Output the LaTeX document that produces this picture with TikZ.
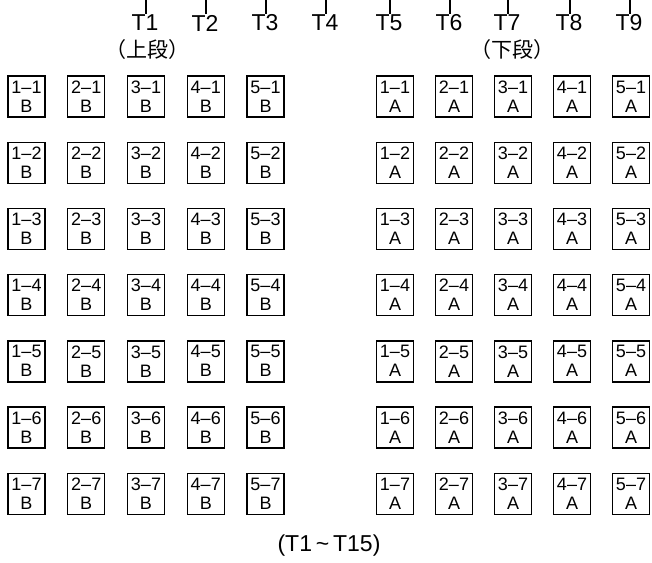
\documentclass[tikz,border=0pt]{standalone}
\usepackage{fontspec}
\setmainfont{Liberation Sans}
\newfontfamily\cjk{Noto Sans CJK JP}
\begin{document}
\begin{tikzpicture}[x=1pt,y=-1pt,
  cell/.style={draw,line width=1.4pt,minimum width=37pt,minimum height=41pt,inner sep=0pt,
    align=center,font=\fontsize{18}{19}\selectfont},
  tlabel/.style={font=\fontsize{23}{26}\selectfont,inner sep=1pt},
  tick/.style={line width=1.3pt},
  grouplabel/.style={font=\cjk\fontsize{21}{24}\selectfont},
  caption/.style={font=\fontsize{23}{26}\selectfont}]
\useasboundingbox (0,0) rectangle (652,562);
% T labels with ticks
\foreach \n/\x in {1/145,2/205,3/265,4/325,5/389,6/449,7/507,8/569,9/629}{
  \node[tlabel] (t\n) at (\x,23) {T\n};
  \coordinate (tt\n) at (\x+1,0);
  \draw[tick] (t\n.north -| tt\n) -- (tt\n);
}
\node[grouplabel] (upper) at (147,50) {（上段）};
\node[grouplabel] (lower) at (512,50) {（下段）};
% grids
\foreach \c in {1,...,5}{
  \foreach \r in {1,...,7}{
    \node[cell] (b\c-\r) at ({26.5+59.75*(\c-1)},{96.5+66.2*(\r-1)}) {\c–\r\\B};
    \node[cell] (a\c-\r) at ({395+59*(\c-1)},{96.5+66.2*(\r-1)}) {\c–\r\\A};
  }
}
\node[caption] (cap) at (329,546) {(T1\,\char`\~\,T15)};
\end{tikzpicture}
\end{document}
